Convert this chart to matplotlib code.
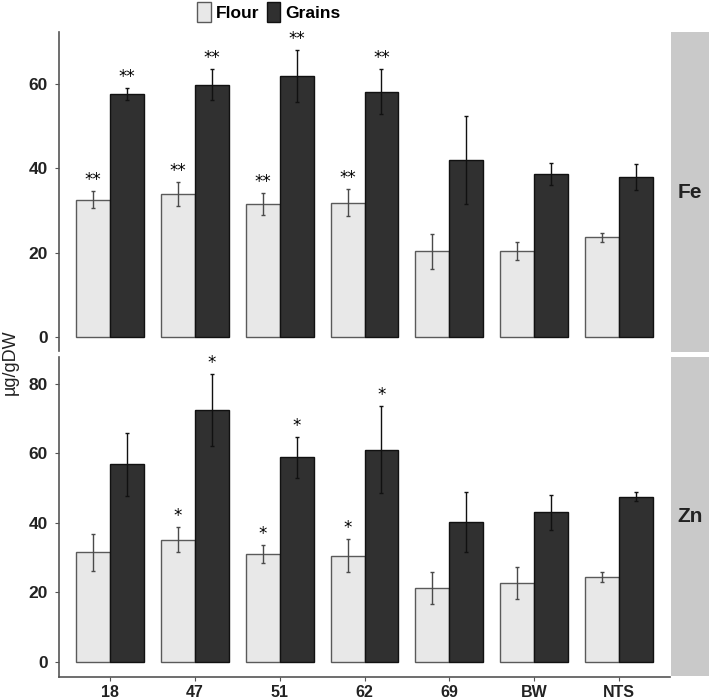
import matplotlib
matplotlib.use("Agg")
import matplotlib.pyplot as plt
from matplotlib.patches import Rectangle, Patch
import numpy as np

plt.rcParams['font.family'] = ['Liberation Sans', 'DejaVu Sans']

categories = ["18", "47", "51", "62", "69", "BW", "NTS"]
series = ["Flour", "Grains"]

fe_flour = [32.5, 33.9, 31.4, 31.8, 20.3, 20.4, 23.6]
fe_flour_err = [2.0, 2.9, 2.6, 3.2, 4.2, 2.1, 1.1]
fe_grains = [57.5, 59.7, 61.8, 58.1, 41.9, 38.5, 37.8]
fe_grains_err = [1.4, 3.7, 6.1, 5.3, 10.5, 2.6, 3.1]
fe_flour_sig = ["**", "**", "**", "**", "", "", ""]
fe_grains_sig = ["**", "**", "**", "**", "", "", ""]

zn_flour = [31.6, 35.2, 31.1, 30.6, 21.4, 22.8, 24.5]
zn_flour_err = [5.3, 3.6, 2.6, 4.8, 4.6, 4.6, 1.5]
zn_grains = [56.8, 72.5, 58.9, 61.0, 40.3, 43.0, 47.5]
zn_grains_err = [9.1, 10.3, 5.9, 12.5, 8.6, 4.9, 1.25]
zn_flour_sig = ["", "*", "*", "*", "", "", ""]
zn_grains_sig = ["", "*", "*", "*", "", "", ""]

fe_ticks = [0, 20, 40, 60]
zn_ticks = [0, 20, 40, 60, 80]

flour_fill = "#e8e8e8"
flour_edge = "#5a5a5a"
grain_fill = "#303030"
grain_edge = "#111111"
spine_col = "#555555"
strip_col = "#c9c9c9"

W, H = 709, 699
fig = plt.figure(figsize=(W / 100, H / 100), dpi=100)

left = 59 / W
right = 670 / W
ax_top = fig.add_axes([left, 1 - 351 / H, right - left, (351 - 32) / H])
ax_bot = fig.add_axes([left, 1 - 677 / H, right - left, (677 - 357) / H])

x = np.arange(1, len(categories) + 1)
bw = 0.4


def draw(ax, flour, ferr, grains, gerr, fsig, gsig, ticks, ylim, show_x):
    ax.bar(x - bw / 2, flour, width=bw, color=flour_fill, edgecolor=flour_edge, linewidth=1.0, zorder=2)
    ax.bar(x + bw / 2, grains, width=bw, color=grain_fill, edgecolor=grain_edge, linewidth=1.0, zorder=2)
    ax.errorbar(x - bw / 2, flour, yerr=ferr, fmt='none', ecolor="#4a4a4a", elinewidth=1.0,
                capsize=1.6, capthick=1.0, zorder=3)
    ax.errorbar(x + bw / 2, grains, yerr=gerr, fmt='none', ecolor="#111111", elinewidth=1.0,
                capsize=1.6, capthick=1.0, zorder=3)
    off = (ylim[1] - ylim[0]) * 0.006
    for xi, v, e, s in zip(x - bw / 2, flour, ferr, fsig):
        if s:
            ax.text(xi, v + e + off, s, ha='center', va='bottom', fontsize=12, family='DejaVu Sans')
    for xi, v, e, s in zip(x + bw / 2, grains, gerr, gsig):
        if s:
            ax.text(xi, v + e + off, s, ha='center', va='bottom', fontsize=12, family='DejaVu Sans')
    ax.set_xlim(0.4, 7.6)
    ax.set_ylim(*ylim)
    ax.set_yticks(ticks)
    ax.set_yticklabels([str(t) for t in ticks], fontsize=12.5, fontweight='bold', color='#222222')
    for sp in ['top', 'right']:
        ax.spines[sp].set_visible(False)
    ax.spines['left'].set_color(spine_col)
    ax.spines['left'].set_linewidth(1.2)
    ax.tick_params(axis='y', length=3, color=spine_col, pad=5)
    if show_x:
        ax.spines['bottom'].set_color(spine_col)
        ax.spines['bottom'].set_linewidth(1.2)
        ax.set_xticks(x)
        ax.set_xticklabels(categories, fontsize=11.5, fontweight='bold', color='#222222')
        ax.tick_params(axis='x', length=3, color=spine_col, pad=2.5)
    else:
        ax.spines['bottom'].set_visible(False)
        ax.set_xticks([])


draw(ax_top, fe_flour, fe_flour_err, fe_grains, fe_grains_err, fe_flour_sig, fe_grains_sig,
     fe_ticks, (-3.3, 72.2), False)
draw(ax_bot, zn_flour, zn_flour_err, zn_grains, zn_grains_err, zn_flour_sig, zn_grains_sig,
     zn_ticks, (-4.3, 87.7), True)

# facet strips
strip_x0 = 671 / W
for (y0, y1, lab) in [(32, 352, "Fe"), (357, 676, "Zn")]:
    r = Rectangle((strip_x0, 1 - y1 / H), 1 - strip_x0, (y1 - y0) / H, transform=fig.transFigure,
                  facecolor=strip_col, edgecolor='none')
    fig.patches.append(r)
    fig.text((strip_x0 + 1) / 2, 1 - (y0 + y1) / 2 / H, lab, ha='center', va='center',
             fontsize=15, fontweight='bold', color='#222222')

# y label
fig.text(10 / W, 1 - 362 / H, "µg/gDW", rotation=90, ha='center', va='center', fontsize=13, color='#222222')

# legend
handles = [Patch(facecolor=flour_fill, edgecolor=flour_edge, label=series[0]),
           Patch(facecolor=grain_fill, edgecolor=grain_edge, label=series[1])]
fig.legend(handles=handles, loc='center', bbox_to_anchor=(269 / W, 1 - 12 / H), ncol=2, frameon=False,
           handlelength=0.75, handleheight=1.35, handletextpad=0.3, columnspacing=0.45,
           prop={'weight': 'bold', 'size': 12.5})

fig.savefig("out.png", dpi=100)
